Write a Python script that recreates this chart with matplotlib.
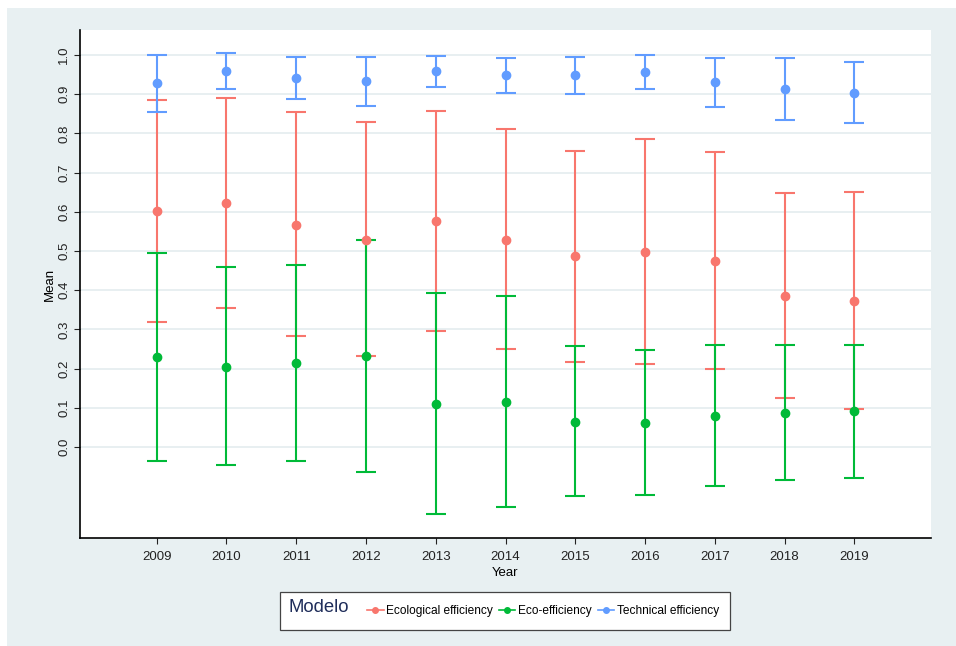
import matplotlib.pyplot as plt
from matplotlib.patches import Rectangle
from matplotlib.lines import Line2D

# --------------------------------------------------------------
# Data: mean and confidence interval per year and model
# --------------------------------------------------------------
years = [2009, 2010, 2011, 2012, 2013, 2014, 2015, 2016, 2017, 2018, 2019]

ecol_mean = [0.602, 0.623, 0.567, 0.529, 0.577, 0.529, 0.486, 0.497, 0.475, 0.386, 0.372]
ecol_low = [0.318, 0.355, 0.282, 0.232, 0.296, 0.249, 0.217, 0.212, 0.198, 0.125, 0.097]
ecol_high = [0.886, 0.891, 0.854, 0.829, 0.856, 0.810, 0.756, 0.785, 0.752, 0.647, 0.650]

eco_mean = [0.230, 0.205, 0.215, 0.232, 0.110, 0.115, 0.065, 0.062, 0.080, 0.087, 0.091]
eco_low = [-0.035, -0.045, -0.035, -0.064, -0.172, -0.154, -0.126, -0.122, -0.099, -0.085, -0.079]
eco_high = [0.495, 0.458, 0.465, 0.529, 0.393, 0.386, 0.257, 0.247, 0.260, 0.260, 0.260]

tech_mean = [0.928, 0.958, 0.941, 0.933, 0.959, 0.948, 0.948, 0.957, 0.930, 0.913, 0.904]
tech_low = [0.855, 0.913, 0.888, 0.871, 0.919, 0.903, 0.901, 0.913, 0.868, 0.835, 0.827]
tech_high = [1.001, 1.005, 0.996, 0.995, 0.997, 0.993, 0.996, 0.999, 0.993, 0.992, 0.982]

models = ['Ecological efficiency', 'Eco-efficiency', 'Technical efficiency']
colors = ['#f8766d', '#00ba38', '#619cff']
series = [
    (ecol_mean, ecol_low, ecol_high),
    (eco_mean, eco_low, eco_high),
    (tech_mean, tech_low, tech_high),
]

plt.rcParams['font.family'] = ['Liberation Sans', 'DejaVu Sans']

# --------------------------------------------------------------
# Figure
# --------------------------------------------------------------
bg = '#e8f0f2'
fig = plt.figure(figsize=(9.56, 6.46), dpi=100, facecolor=bg)
# white margin on top and left
fig.patches.append(Rectangle((0, 1 - 8 / 646), 1, 8 / 646, transform=fig.transFigure,
                             facecolor='white', edgecolor='none', zorder=0))
fig.patches.append(Rectangle((0, 0), 7 / 956, 1, transform=fig.transFigure,
                             facecolor='white', edgecolor='none', zorder=0))

ax = fig.add_axes([80 / 956, 1 - 538 / 646, (931 - 80) / 956, (538 - 30) / 646])
ax.set_facecolor('white')

for (m, lo, hi), color, name in zip(series, colors, models):
    yerr = [[a - b for a, b in zip(m, lo)], [b - a for a, b in zip(m, hi)]]
    ax.errorbar(years, m, yerr=yerr, fmt='o', color=color, ecolor=color,
                elinewidth=1.5, capsize=7, capthick=1.5, markersize=6,
                label=name, zorder=3)

ax.set_xlim(2007.9, 2020.1)
ax.set_ylim(-0.232, 1.0637)
ax.set_xticks(years)
ax.set_yticks([i / 10 for i in range(11)])
ax.set_yticklabels([f'{i / 10:.1f}' for i in range(11)], rotation=90, va='center')
ax.tick_params(axis='both', labelsize=9.5, colors='#222222', length=4, width=0.8)
ax.tick_params(axis='x', pad=5)
ax.tick_params(axis='y', pad=3)
ax.grid(axis='y', color='#e4ecef', linewidth=1.2, zorder=0)
ax.set_axisbelow(True)

for side in ['top', 'right']:
    ax.spines[side].set_visible(False)
for side in ['left', 'bottom']:
    ax.spines[side].set_color('black')
    ax.spines[side].set_linewidth(1.2)

ax.set_xlabel('Year', fontsize=9.5, labelpad=3)
ax.set_ylabel('Mean', fontsize=9.5, labelpad=2)

# --------------------------------------------------------------
# Legend box with title on the left
# --------------------------------------------------------------
fig.patches.append(Rectangle((280 / 956, 1 - 630 / 646), 450 / 956, 38 / 646,
                             transform=fig.transFigure, facecolor='white',
                             edgecolor='#444444', linewidth=0.9, zorder=1))
fig.text(288 / 956, 1 - 607 / 646, 'Modelo', fontsize=13.3, color='#1f2d5a',
         va='center', ha='left', zorder=2)

handles = [Line2D([0], [0], color=c, marker='o', markersize=4, linewidth=1.2)
           for c in colors]
fig.legend(handles, models, loc='center left', ncol=3, frameon=False,
           bbox_to_anchor=(362 / 956, 1 - 611 / 646), fontsize=8.6,
           handlelength=1.4, handletextpad=0.2, columnspacing=0.5,
           borderaxespad=0)

fig.savefig('out.png', dpi=100, facecolor=bg)
